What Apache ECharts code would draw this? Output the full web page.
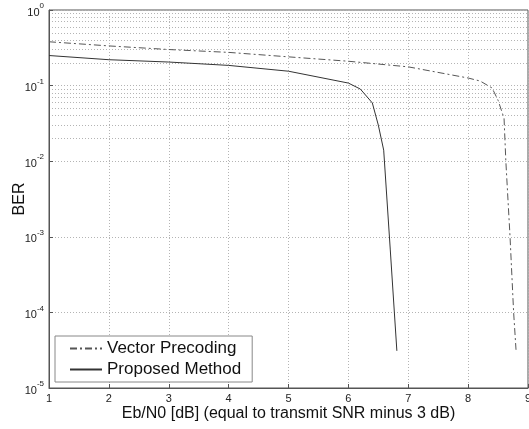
<!DOCTYPE html>
<html>
<head>
<meta charset="utf-8">
<script src="https://cdn.jsdelivr.net/npm/echarts@6/dist/echarts.min.js"></script>
<style>
html, body { margin: 0; padding: 0; background: #fff; }
#main { width: 529px; height: 429px; }
</style>
</head>
<body>
<div id="main"></div>
<script>
// Eb/N0 (dB) and BER
var vectorX = [1, 2, 3, 4, 5, 6, 7, 8, 8.2, 8.4, 8.5, 8.6, 8.63, 8.7, 8.76, 8.8];
var vectorY = [0.38, 0.335, 0.30, 0.275, 0.24, 0.21, 0.177, 0.126, 0.115, 0.093, 0.064, 0.037, 0.01, 0.001, 0.0001, 0.000032];
var proposedX = [1, 2, 3, 4, 5, 6, 6.2, 6.4, 6.5, 6.59, 6.7, 6.81];
var proposedY = [0.25, 0.22, 0.205, 0.185, 0.155, 0.108, 0.09, 0.059, 0.03, 0.014, 0.00067, 0.000031];
var seriesNames = ['Vector Precoding', 'Proposed Method'];
var minorDecades = [-5, -4, -3, -2, -1];
var minorSteps = [2, 3, 4, 5, 6, 7, 8, 9];

function pairs(xs, ys)
{
	var out = [];
	for (var i = 0; i < xs.length; i++)
		out.push([xs[i], ys[i]]);
	return out;
}

var minorLines = [];
minorDecades.forEach(function(k)
{
	minorSteps.forEach(function(m)
	{
		minorLines.push({ yAxis: m * Math.pow(10, k) });
	});
});

var gridLine = { color: '#b4b4b4', width: 1, type: [1, 2] };
var font = 'Liberation Sans, Arial, sans-serif';

var chart = echarts.init(document.getElementById('main'));

var options =
{
	animation: false,
	textStyle: { fontFamily: font, color: '#000' },
	grid:
	{
		left: 49, right: 1, top: 10, bottom: 41,
		containLabel: false,
		outerBoundsMode: 'none',
		show: true, borderColor: '#555', borderWidth: 1
	},
	legend:
	{
		data: seriesNames,
		orient: 'vertical',
		left: 55,
		top: 336,
		padding: [4, 11, 4, 14],
		itemGap: 4,
		itemWidth: 32,
		itemHeight: 14,
		backgroundColor: '#fff',
		borderColor: '#888',
		borderWidth: 1,
		itemStyle: { opacity: 0 },
		textStyle: { fontSize: 17, color: '#111', fontFamily: font }
	},
	xAxis:
	{
		type: 'value',
		min: 1,
		max: 9,
		interval: 1,
		name: 'Eb/N0 [dB] (equal to transmit SNR minus 3 dB)',
		nameLocation: 'middle',
		nameGap: 18,
		nameMoveOverlap: false,
		nameTextStyle: { fontSize: 16, color: '#111', verticalAlign: 'top' },
		axisLine: { show: true, onZero: false, lineStyle: { color: '#555' } },
		axisTick: { show: true, inside: true, length: 4, lineStyle: { color: '#555' } },
		axisLabel: { fontSize: 11, color: '#222', margin: 5 },
		splitLine: { show: true, lineStyle: gridLine }
	},
	yAxis:
	{
		type: 'log',
		logBase: 10,
		min: 1e-5,
		max: 1,
		name: 'BER',
		nameLocation: 'middle',
		nameGap: 21,
		nameMoveOverlap: false,
		nameRotate: 90,
		nameTextStyle: { fontSize: 16, color: '#111' },
		axisLine: { show: true, lineStyle: { color: '#555' } },
		axisTick: { show: true, inside: true, length: 4, lineStyle: { color: '#555' } },
		axisLabel:
		{
			margin: 5,
			formatter: function(v)
			{
				var e = Math.round(Math.log(v) / Math.LN10);
				return '{b|10}{s|' + e + '}';
			},
			rich:
			{
				b: { fontSize: 11, color: '#222', fontFamily: font, verticalAlign: 'bottom', lineHeight: 16 },
				s: { fontSize: 8, color: '#222', fontFamily: font, verticalAlign: 'top', lineHeight: 16 }
			}
		},
		splitLine: { show: true, lineStyle: gridLine }
	},
	series:
	[
		{
			name: seriesNames[0],
			type: 'line',
			symbol: 'none',
			data: pairs(vectorX, vectorY),
			lineStyle: { color: '#555', width: 1, type: [7, 3, 2, 3] },
			itemStyle: { color: '#555' },
			markLine:
			{
				silent: true,
				symbol: 'none',
				label: { show: false },
				lineStyle: gridLine,
				data: minorLines,
				z: 0
			},
			z: 3
		},
		{
			name: seriesNames[1],
			type: 'line',
			symbol: 'none',
			data: pairs(proposedX, proposedY),
			lineStyle: { color: '#333', width: 1 },
			itemStyle: { color: '#333' },
			z: 3
		}
	]
};

chart.setOption(options);
</script>
</body>
</html>
